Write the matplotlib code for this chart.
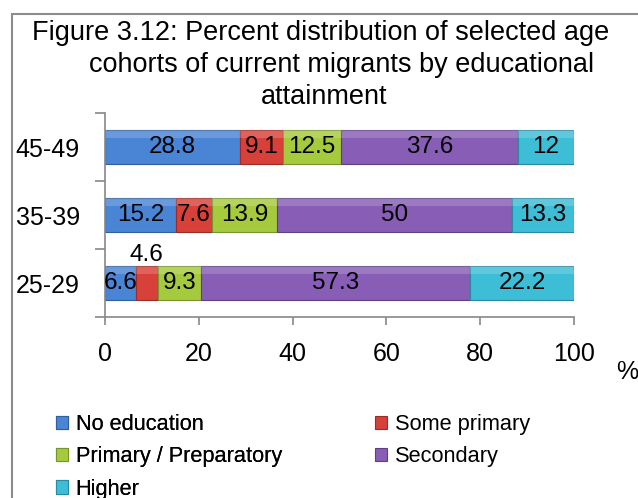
"""
Figure 3.12: distribusi persen kohort umur migran menurut pendidikan
"""
import matplotlib
matplotlib.use("Agg")
import matplotlib.pyplot as plt
from matplotlib.patches import Rectangle
import numpy as np

# data
cohorts = ["25-29", "35-39", "45-49"]
categories = ["No education", "Some primary", "Primary / Preparatory", "Secondary", "Higher"]
no_education = [6.6, 15.2, 28.8]
some_primary = [4.6, 7.6, 9.1]
primary_prep = [9.3, 13.9, 12.5]
secondary = [57.3, 50, 37.6]
higher = [22.2, 13.3, 12]
x_ticks = [0, 20, 40, 60, 80, 100]

colors = ["#4a84d4", "#d8403a", "#a6ca3e", "#875db5", "#3ebdd6"]
edge_colors = ["#2f5f9e", "#9c2b27", "#76952a", "#5e3f85", "#2a8aa0"]

plt.rcParams["font.family"] = ["Liberation Sans", "DejaVu Sans"]

series = [no_education, some_primary, primary_prep, secondary, higher]

fig = plt.figure(figsize=(6.38, 4.98), dpi=100)
W, H = 638, 498
ax = fig.add_axes([105 / W, 1 - 317 / H, (574 - 105) / W, (317 - 113) / H])

y = np.arange(len(cohorts))
left = np.zeros(len(cohorts))
handles = []
for vals, name, c, ec in zip(series, categories, colors, edge_colors):
    vals = np.array(vals, dtype=float)
    bars = ax.barh(y, vals, height=0.5, left=left, color=c, edgecolor=ec,
                   linewidth=0.8, label=name)
    # efek bevel sederhana di bagian atas batang
    ax.barh(y + 0.19, vals, height=0.12, left=left, color="white", alpha=0.18,
            linewidth=0)
    handles.append(bars)
    for i, v in enumerate(vals):
        txt = f"{v:g}"
        cx = left[i] + v / 2
        if v < 5:
            # segmen sempit: label di atas batang
            ax.text(cx, y[i] + 0.25, txt, ha="center", va="bottom", fontsize=17.5)
        else:
            ax.text(cx, y[i], txt, ha="center", va="center", fontsize=17.5)
    left = left + vals

ax.set_xlim(0, 100)
ax.set_ylim(-0.5, 2.5)
ax.set_xticks(x_ticks)
ax.set_xticklabels([str(t) for t in x_ticks])
ax.set_yticks(y)
ax.set_yticklabels(cohorts)
ax.set_yticks([-0.5, 0.5, 1.5, 2.5], minor=True)
ax.tick_params(axis="y", which="major", length=0, pad=18, labelsize=18)
ax.tick_params(axis="y", which="minor", length=7, color="#888888", width=1.2)
ax.tick_params(axis="x", length=6, color="#888888", width=1.2, pad=12, labelsize=18)
for s in ["top", "right"]:
    ax.spines[s].set_visible(False)
for s in ["left", "bottom"]:
    ax.spines[s].set_color("#888888")
    ax.spines[s].set_linewidth(1.2)

fig.text(627 / W, 1 - 372 / H, "%", ha="center", va="center", fontsize=18)

# judul
fig.text(321 / W, 1 - 33 / H, "Figure 3.12: Percent distribution of selected age",
         ha="center", va="center", fontsize=19.5)
fig.text(342 / W, 1 - 65 / H, "cohorts of current migrants by educational",
         ha="center", va="center", fontsize=19.5)
fig.text(324 / W, 1 - 97 / H, "attainment", ha="center", va="center", fontsize=19.5)

# legenda dalam dua kolom (urutan baris seperti Excel)
leg_kw = dict(loc="upper left", frameon=False, fontsize=15.7, handlelength=0.55,
              handleheight=0.55, handletextpad=0.35, labelspacing=0.52,
              borderaxespad=0, borderpad=0)
leg1 = fig.legend([handles[0], handles[2], handles[4]],
                  [categories[0], categories[2], categories[4]],
                  bbox_to_anchor=(56 / W, 1 - 414 / H), **leg_kw)
fig.add_artist(leg1)
fig.legend([handles[1], handles[3]], [categories[1], categories[3]],
           bbox_to_anchor=(375 / W, 1 - 414 / H), **leg_kw)

# bingkai
fig.add_artist(Rectangle((12 / W, -0.1), 1.2, 1 - 14 / H + 0.1, transform=fig.transFigure,
                         fill=False, edgecolor="#8c8c8c", linewidth=1.5, clip_on=False))

plt.savefig("out.png", dpi=100)
